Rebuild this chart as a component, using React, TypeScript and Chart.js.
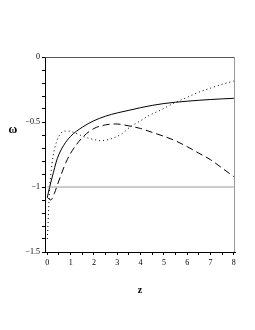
import React, { useEffect, useRef } from "react";
import { Chart, registerables } from "chart.js";

Chart.register(...registerables);

const zSolid = [0, 0.1, 0.2, 0.43, 0.7, 1, 1.5, 2, 2.5, 3, 3.5, 4, 4.5, 5, 5.5, 6, 6.5, 7, 7.5, 8];
const wSolid = [-1.08, -1.0, -0.93, -0.78, -0.68, -0.61, -0.54, -0.49, -0.455, -0.43, -0.41, -0.39, -0.372, -0.358, -0.348, -0.34, -0.333, -0.327, -0.322, -0.318];

const zDash = [0, 0.15, 0.3, 0.4, 0.6, 0.8, 1, 1.5, 2, 2.5, 2.92, 3.5, 4, 4.5, 5, 5.5, 6, 6.5, 7, 7.5, 8];
const wDash = [-1.08, -1.1, -1.05, -1.0, -0.9, -0.81, -0.74, -0.62, -0.55, -0.522, -0.515, -0.53, -0.55, -0.58, -0.61, -0.645, -0.69, -0.74, -0.79, -0.855, -0.92];

const zDot = [0, 0.05, 0.1, 0.15, 0.25, 0.4, 0.55, 0.7, 0.9, 1.2, 1.6, 2, 2.3, 2.8, 3.2, 3.57, 4, 4.4, 4.84, 5.48, 6, 6.5, 7, 7.5, 8];
const wDot = [-1.4, -1.2, -1.0, -0.9, -0.76, -0.65, -0.595, -0.57, -0.57, -0.585, -0.615, -0.635, -0.644, -0.625, -0.59, -0.536, -0.49, -0.446, -0.41, -0.35, -0.31, -0.27, -0.24, -0.21, -0.185];

const zRef = [0, 8];
const wRef = [-1, -1];

const yTickLabels: Record<string, string> = { "0": "0", "-0.5": "\u22120.5", "-1": "\u22121", "-1.5": "\u22121.5" };
const xTickLabels = ["0", "1", "2", "3", "4", "5", "6", "7", "8"];

const toPts = (xs: number[], ys: number[]) => xs.map((x, i) => ({ x, y: ys[i] }));

const FONT = "'Liberation Serif', 'DejaVu Serif', serif";

export default function App() {
  const ref = useRef<HTMLCanvasElement | null>(null);
  useEffect(() => {
    if (!ref.current) return;
    const framePlugin = {
      id: "frame",
      afterDraw(chart: any) {
        const { ctx, chartArea: a } = chart;
        ctx.save();
        ctx.lineWidth = 1;
        ctx.strokeStyle = "#555";
        ctx.beginPath();
        ctx.moveTo(a.left, a.top + 0.5);
        ctx.lineTo(a.right, a.top + 0.5);
        ctx.stroke();
        ctx.strokeStyle = "#999";
        ctx.beginPath();
        ctx.moveTo(a.right - 0.5, a.top);
        ctx.lineTo(a.right - 0.5, a.bottom);
        ctx.stroke();
        ctx.fillStyle = "#000";
        ctx.font = "bold 12px " + FONT;
        ctx.textAlign = "center";
        ctx.textBaseline = "middle";
        ctx.fillText("\u03c9", 13, 130);
        ctx.font = "bold 10px " + FONT;
        ctx.fillText("z", 140, 290);
        ctx.restore();
      },
    };
    const line = (data: any, dash: number[], color = "#000") => ({
      data,
      showLine: true,
      borderColor: color,
      borderWidth: 1,
      borderDash: dash,
      pointRadius: 0,
      fill: false,
      tension: 0.4,
      cubicInterpolationMode: "monotone",
    });
    const chart = new Chart(ref.current, {
      type: "scatter",
      data: {
        datasets: [
          line(toPts(zRef, wRef), [], "#9a9a9a"),
          line(toPts(zSolid, wSolid), []),
          line(toPts(zDash, wDash), [7, 4]),
          line(toPts(zDot, wDot), [1, 3]),
        ] as any,
      },
      options: {
        animation: false,
        responsive: false,
        events: [],
        layout: { padding: { top: 57, right: 20, left: 0, bottom: 0 } },
        plugins: { legend: { display: false }, tooltip: { enabled: false } },
        scales: {
          x: {
            type: "linear",
            min: -0.1,
            max: 8.05,
            afterFit: (s: any) => { s.height = 78; },
            afterBuildTicks: (s: any) => {
              const t = [];
              for (let i = 0; i <= 16; i++) t.push({ value: i / 2 });
              s.ticks = t;
            },
            border: { display: true, color: "#000", width: 1 },
            grid: { drawOnChartArea: false, drawTicks: true, tickLength: 3, color: "#000" },
            ticks: {
              autoSkip: false,
              maxRotation: 0,
              padding: 3,
              color: "#000",
              font: { family: FONT, size: 8 },
              callback: (v: any) => (Number.isInteger(v) ? xTickLabels[v] : ""),
            },
          },
          y: {
            type: "linear",
            min: -1.5,
            max: 0,
            afterFit: (s: any) => { s.width = 45; },
            afterBuildTicks: (s: any) => {
              const t = [];
              for (let i = 0; i <= 15; i++) t.push({ value: -i / 10 });
              s.ticks = t;
            },
            border: { display: true, color: "#000", width: 1 },
            grid: { drawOnChartArea: false, drawTicks: true, tickLength: 3, color: "#000" },
            ticks: {
              autoSkip: false,
              padding: 2,
              color: "#000",
              font: { family: FONT, size: 8 },
              callback: (v: any) => {
                const k = String(Math.round(v * 10) / 10);
                return yTickLabels[k] ?? "";
              },
            },
          },
        },
      },
      plugins: [framePlugin],
    });
    return () => chart.destroy();
  }, []);
  return (
    <div style={{ position: "fixed", left: 0, top: 0, width: 255, height: 330, background: "#fff" }}>
      <canvas ref={ref} width={255} height={330} style={{ width: 255, height: 330 }} />
    </div>
  );
}
